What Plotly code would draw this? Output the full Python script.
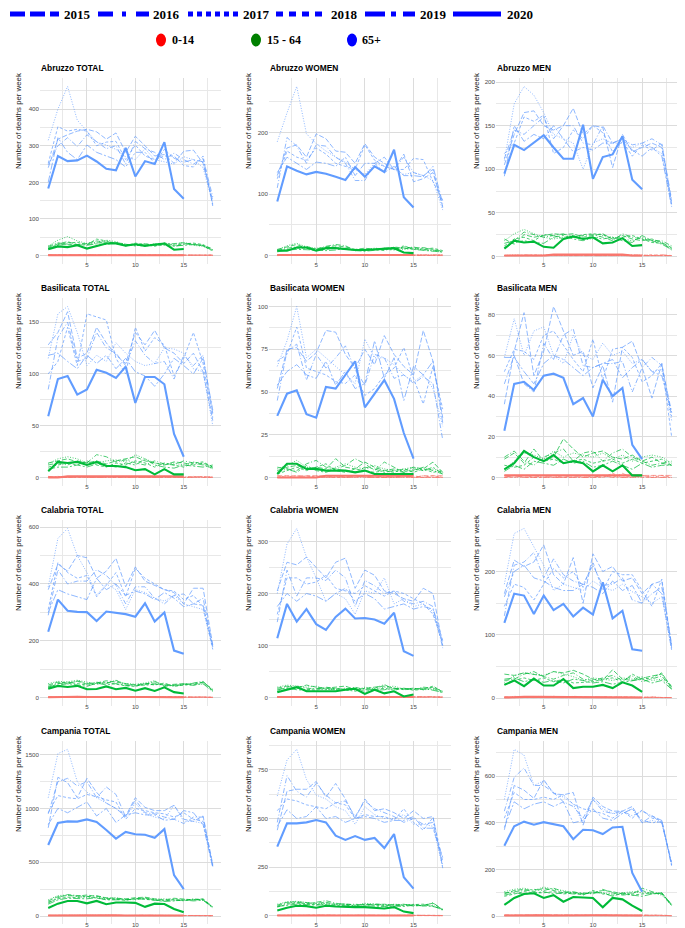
import plotly.graph_objects as go

YEARS = ["2015", "2016", "2017", "2018", "2019", "2020"]
WEEKS_FULL = list(range(1, 19))
WEEKS_2020 = list(range(1, 16))
AGE_GROUPS = ["0-14", "15 - 64", "65+"]

# ---------------- data: rows are years 2015..2020 ----------------
abruzzo_total_65 = [
    [240, 318, 330, 340, 345, 338, 318, 335, 282, 326, 300, 272, 276, 252, 285, 288, 252, 150],
    [248, 300, 322, 298, 330, 312, 292, 300, 250, 312, 292, 282, 262, 280, 262, 250, 265, 160],
    [315, 400, 462, 370, 340, 310, 302, 290, 270, 262, 292, 262, 256, 250, 270, 262, 240, 142],
    [252, 352, 340, 345, 340, 300, 310, 312, 262, 302, 272, 262, 272, 272, 246, 242, 272, 135],
    [200, 322, 282, 262, 302, 282, 272, 262, 242, 282, 282, 252, 290, 266, 255, 262, 256, 140],
    [183, 272, 258, 260, 273, 257, 237, 233, 294, 216, 258, 250, 310, 182, 155],
]
abruzzo_total_1564 = [
    [22, 32, 38, 30, 33, 40, 36, 35, 28, 30, 32, 28, 30, 33, 35, 30, 28, 18],
    [25, 35, 30, 28, 30, 35, 38, 33, 30, 28, 26, 30, 28, 25, 30, 32, 26, 14],
    [26, 42, 52, 40, 33, 36, 42, 38, 30, 29, 28, 32, 33, 30, 36, 28, 25, 15],
    [20, 30, 35, 36, 30, 45, 40, 32, 26, 34, 30, 25, 35, 28, 32, 34, 30, 16],
    [18, 28, 32, 30, 28, 32, 30, 36, 30, 26, 32, 28, 30, 26, 28, 30, 27, 12],
    [17, 25, 23, 28, 19, 25, 33, 33, 27, 31, 26, 30, 33, 16, 18],
]
abruzzo_total_014 = [
    [1, 2, 1, 2, 1, 1, 2, 1, 1, 2, 1, 1, 2, 1, 1, 1, 2, 1],
    [2, 1, 1, 1, 2, 2, 1, 1, 2, 1, 1, 2, 1, 1, 2, 1, 1, 1],
    [1, 1, 2, 3, 2, 1, 1, 2, 1, 1, 2, 1, 1, 2, 1, 1, 1, 0],
    [2, 2, 1, 1, 1, 2, 1, 1, 1, 2, 2, 1, 1, 1, 1, 2, 1, 1],
    [1, 1, 1, 2, 1, 1, 2, 2, 1, 1, 1, 2, 2, 1, 1, 1, 1, 1],
    [1, 1, 1, 1, 2, 1, 1, 1, 1, 1, 1, 2, 1, 1, 1],
]

abruzzo_women_65 = [
    [130, 175, 180, 160, 198, 190, 170, 168, 150, 182, 160, 150, 140, 165, 120, 125, 135, 80],
    [110, 192, 178, 150, 180, 178, 160, 150, 122, 122, 150, 160, 140, 160, 135, 130, 140, 78],
    [185, 232, 275, 198, 182, 170, 160, 152, 140, 132, 150, 145, 140, 132, 135, 130, 122, 74],
    [125, 170, 160, 155, 175, 165, 150, 145, 140, 180, 155, 145, 140, 140, 158, 156, 120, 90],
    [135, 160, 150, 140, 152, 150, 145, 160, 130, 150, 150, 135, 145, 130, 130, 128, 145, 85],
    [88, 145, 138, 132, 136, 133, 128, 123, 144, 128, 145, 136, 172, 95, 78],
]
abruzzo_women_1564 = [
    [10, 14, 18, 12, 11, 14, 16, 14, 10, 12, 10, 12, 10, 14, 12, 13, 10, 7],
    [8, 12, 14, 15, 10, 15, 18, 16, 8, 10, 9, 12, 13, 11, 14, 10, 9, 6],
    [9, 16, 20, 14, 12, 12, 14, 11, 8, 10, 12, 11, 12, 10, 12, 9, 8, 5],
    [7, 10, 12, 12, 8, 10, 12, 10, 9, 8, 10, 8, 14, 12, 10, 11, 12, 8],
    [6, 9, 10, 10, 9, 8, 9, 12, 8, 7, 9, 10, 9, 16, 10, 8, 7, 6],
    [8, 8, 13, 13, 8, 12, 12, 10, 9, 9, 10, 12, 12, 5, 4],
]
abruzzo_women_014 = [
    [0, 1, 1, 0, 1, 1, 0, 1, 1, 0, 1, 1, 1, 0, 1, 1, 0, 1],
    [1, 0, 1, 1, 0, 1, 1, 0, 1, 1, 0, 1, 0, 1, 1, 0, 1, 0],
    [1, 1, 0, 1, 1, 0, 1, 1, 0, 1, 1, 0, 1, 1, 0, 1, 1, 1],
    [0, 1, 1, 1, 0, 1, 0, 1, 1, 1, 0, 0, 1, 1, 1, 0, 1, 0],
    [1, 0, 0, 1, 1, 1, 1, 0, 0, 1, 1, 1, 0, 1, 0, 1, 0, 1],
    [1, 1, 1, 1, 1, 1, 1, 1, 1, 1, 1, 1, 1, 1, 1],
]

abruzzo_men_65 = [
    [105, 140, 165, 167, 150, 145, 150, 170, 140, 150, 148, 102, 140, 120, 125, 130, 125, 60],
    [112, 145, 140, 150, 160, 135, 150, 150, 130, 128, 150, 130, 135, 128, 130, 135, 128, 65],
    [110, 175, 195, 185, 165, 140, 135, 130, 100, 130, 135, 130, 130, 125, 130, 125, 118, 58],
    [118, 130, 160, 155, 162, 118, 125, 145, 135, 150, 142, 120, 132, 115, 128, 122, 130, 62],
    [92, 150, 132, 140, 135, 150, 135, 120, 125, 122, 130, 130, 135, 122, 115, 125, 115, 57],
    [95, 128, 122, 130, 139, 125, 112, 112, 151, 89, 114, 117, 138, 88, 77],
]
abruzzo_men_1564 = [
    [20, 14, 25, 22, 24, 26, 25, 26, 22, 24, 26, 20, 24, 20, 18, 20, 16, 10],
    [15, 18, 28, 25, 22, 24, 26, 22, 24, 25, 22, 18, 26, 22, 20, 18, 18, 12],
    [18, 26, 31, 26, 22, 20, 22, 24, 20, 20, 24, 22, 20, 18, 22, 18, 16, 7],
    [12, 20, 22, 18, 25, 24, 20, 22, 25, 26, 25, 20, 22, 24, 20, 16, 15, 9],
    [10, 16, 18, 16, 15, 22, 24, 20, 18, 22, 20, 22, 18, 16, 24, 18, 14, 8],
    [9, 18, 16, 17, 11, 10, 20, 23, 20, 22, 15, 16, 21, 12, 13],
]
abruzzo_men_014 = [
    [1, 1, 1, 1, 1, 2, 1, 1, 2, 1, 1, 1, 2, 1, 1, 1, 1, 1],
    [1, 1, 2, 1, 1, 1, 2, 1, 1, 1, 2, 1, 1, 2, 1, 1, 1, 1],
    [1, 2, 1, 1, 2, 1, 1, 2, 1, 2, 1, 1, 1, 1, 2, 1, 1, 1],
    [1, 1, 1, 2, 1, 1, 1, 1, 1, 1, 1, 2, 1, 1, 1, 2, 1, 1],
    [1, 1, 1, 1, 1, 1, 2, 1, 2, 1, 1, 1, 1, 1, 1, 1, 2, 1],
    [1, 1, 1, 1, 1, 2, 2, 2, 2, 2, 2, 2, 2, 1, 1],
]

basilicata_total_65 = [
    [128, 140, 160, 115, 120, 145, 130, 118, 110, 140, 128, 142, 125, 120, 110, 120, 102, 55],
    [85, 135, 150, 112, 115, 140, 125, 120, 108, 132, 118, 110, 112, 95, 118, 108, 118, 62],
    [115, 158, 165, 140, 108, 118, 112, 130, 120, 112, 108, 110, 125, 124, 120, 105, 102, 50],
    [100, 112, 145, 108, 158, 155, 152, 115, 100, 145, 122, 135, 128, 98, 115, 140, 110, 58],
    [118, 120, 112, 105, 118, 110, 118, 105, 115, 102, 98, 88, 100, 115, 108, 100, 115, 65],
    [59, 95, 98, 80, 85, 104, 101, 96, 107, 72, 97, 97, 90, 42, 20],
]
basilicata_total_1564 = [
    [14, 16, 18, 15, 14, 16, 13, 16, 18, 20, 16, 14, 12, 15, 14, 12, 14, 10],
    [12, 14, 12, 16, 14, 22, 20, 15, 17, 14, 12, 16, 13, 12, 16, 14, 12, 9],
    [13, 18, 20, 18, 14, 14, 16, 17, 15, 22, 18, 14, 12, 14, 12, 15, 13, 8],
    [10, 12, 14, 12, 16, 12, 10, 14, 12, 16, 14, 10, 14, 12, 10, 14, 15, 10],
    [8, 10, 10, 12, 10, 13, 12, 10, 14, 12, 18, 12, 10, 9, 12, 11, 10, 12],
    [6, 15, 14, 15, 12, 15, 11, 11, 10, 7, 8, 3, 8, 3, 3],
]
basilicata_total_014 = [
    [0, 1, 0, 1, 0, 0, 1, 0, 0, 1, 0, 0, 1, 0, 0, 1, 0, 0],
    [1, 0, 0, 0, 1, 0, 0, 1, 0, 0, 1, 0, 0, 1, 0, 0, 1, 0],
    [0, 0, 1, 0, 0, 1, 0, 0, 1, 1, 0, 1, 0, 0, 1, 0, 0, 1],
    [0, 1, 0, 0, 1, 0, 1, 0, 0, 0, 1, 0, 1, 0, 0, 1, 0, 0],
    [1, 0, 0, 1, 0, 0, 0, 1, 1, 0, 0, 0, 0, 1, 0, 0, 1, 0],
    [0, 0, 1, 1, 1, 1, 1, 1, 1, 1, 1, 1, 1, 1, 1],
]

basilicata_women_65 = [
    [52, 75, 76, 68, 73, 86, 85, 72, 64, 75, 66, 83, 72, 65, 60, 86, 68, 35],
    [45, 74, 78, 57, 72, 64, 70, 77, 63, 54, 72, 70, 58, 60, 55, 59, 55, 22],
    [65, 80, 100, 70, 75, 70, 65, 60, 55, 81, 70, 70, 66, 60, 56, 60, 52, 30],
    [68, 72, 88, 64, 62, 60, 56, 55, 60, 48, 52, 60, 64, 76, 58, 43, 65, 40],
    [54, 62, 66, 60, 58, 68, 54, 62, 52, 55, 80, 58, 70, 45, 65, 60, 68, 32],
    [36, 49, 51, 37, 35, 53, 52, 60, 68, 41, 49, 57, 46, 26, 11],
]
basilicata_women_1564 = [
    [4, 6, 7, 5, 6, 5, 11, 6, 5, 9, 6, 4, 5, 4, 6, 5, 9, 3],
    [3, 5, 4, 8, 10, 6, 5, 7, 11, 8, 4, 9, 6, 3, 4, 6, 4, 2],
    [5, 7, 10, 6, 5, 4, 6, 8, 6, 5, 7, 5, 4, 5, 6, 4, 5, 3],
    [2, 4, 6, 4, 6, 8, 4, 3, 5, 4, 3, 4, 3, 5, 3, 5, 3, 4],
    [6, 5, 3, 7, 4, 3, 5, 4, 3, 6, 5, 3, 4, 3, 5, 4, 6, 2],
    [2, 8, 8, 5, 5, 4, 4, 4, 3, 4, 2, 2, 2, 2, 2],
]
basilicata_women_014 = [
    [1, 1, 1, 1, 1, 1, 1, 0, 0, 1, 0, 0, 0, 1, 0, 1, 1, 1],
    [0, 0, 1, 0, 0, 1, 0, 0, 1, 0, 0, 1, 0, 0, 1, 0, 0, 0],
    [0, 1, 0, 0, 0, 0, 1, 0, 0, 0, 1, 0, 0, 0, 0, 1, 0, 1],
    [1, 0, 0, 1, 0, 0, 0, 1, 0, 1, 0, 0, 1, 0, 0, 0, 1, 0],
    [0, 0, 0, 0, 1, 0, 0, 0, 1, 0, 0, 0, 0, 1, 0, 0, 0, 0],
    [0, 0, 0, 0, 0, 1, 1, 1, 1, 1, 1, 1, 1, 1, 1],
]

basilicata_men_65 = [
    [36, 62, 81, 50, 62, 84, 72, 60, 62, 44, 55, 37, 64, 67, 54, 39, 56, 30],
    [46, 60, 46, 42, 66, 58, 70, 73, 55, 54, 56, 56, 57, 42, 54, 59, 55, 32],
    [59, 78, 60, 72, 74, 60, 56, 70, 60, 58, 66, 60, 62, 56, 58, 52, 53, 28],
    [52, 63, 62, 58, 70, 72, 65, 58, 52, 68, 48, 63, 64, 59, 47, 50, 56, 20],
    [59, 59, 52, 46, 56, 60, 58, 54, 50, 54, 56, 58, 49, 54, 58, 52, 50, 32],
    [23, 46, 47, 43, 50, 51, 49, 36, 39, 30, 48, 40, 44, 16, 9],
]
basilicata_men_1564 = [
    [9, 12, 7, 14, 8, 10, 19, 14, 10, 12, 13, 10, 9, 11, 8, 10, 7, 6],
    [10, 13, 8, 6, 10, 12, 14, 8, 12, 13, 8, 12, 14, 10, 8, 6, 7, 8],
    [4, 8, 12, 11, 9, 13, 10, 12, 11, 10, 12, 9, 11, 8, 10, 11, 10, 7],
    [6, 5, 6, 10, 8, 9, 7, 8, 9, 7, 8, 9, 7, 9, 7, 8, 9, 6],
    [3, 6, 4, 8, 7, 6, 9, 7, 8, 5, 6, 8, 6, 4, 7, 5, 6, 6],
    [4, 7, 13, 10, 8, 11, 7, 8, 7, 3, 6, 3, 6, 1, 1],
]
basilicata_men_014 = [
    [1, 1, 1, 1, 1, 1, 1, 1, 1, 1, 1, 1, 1, 1, 1, 1, 1, 1],
    [0, 1, 0, 0, 1, 0, 0, 1, 0, 0, 1, 0, 2, 0, 1, 0, 0, 1],
    [1, 0, 0, 1, 0, 0, 1, 0, 0, 1, 0, 1, 0, 0, 0, 1, 0, 0],
    [0, 0, 1, 0, 0, 1, 0, 0, 1, 0, 0, 2, 0, 1, 0, 0, 1, 0],
    [0, 1, 0, 0, 0, 0, 0, 0, 0, 0, 1, 0, 0, 0, 1, 0, 0, 0],
    [1, 1, 1, 1, 1, 1, 1, 1, 1, 1, 1, 1, 1, 1, 1],
]

calabria_total_65 = [
    [380, 470, 445, 500, 492, 420, 445, 490, 390, 460, 410, 395, 380, 370, 330, 385, 385, 185],
    [290, 450, 400, 410, 410, 450, 430, 395, 330, 390, 390, 350, 330, 360, 365, 330, 350, 180],
    [390, 560, 595, 500, 440, 360, 400, 380, 310, 380, 370, 350, 340, 360, 330, 320, 310, 175],
    [310, 475, 440, 420, 430, 355, 395, 440, 355, 455, 420, 400, 380, 375, 345, 360, 320, 170],
    [300, 380, 365, 355, 345, 420, 380, 400, 360, 375, 365, 345, 370, 350, 320, 330, 325, 180],
    [232, 345, 306, 302, 301, 270, 303, 299, 294, 285, 332, 268, 300, 166, 155],
]
calabria_total_1564 = [
    [45, 55, 52, 58, 48, 52, 60, 55, 48, 45, 50, 52, 45, 48, 50, 45, 55, 30],
    [40, 52, 48, 60, 50, 55, 50, 62, 45, 42, 46, 58, 40, 45, 48, 52, 58, 25],
    [50, 58, 56, 62, 55, 50, 52, 60, 50, 48, 52, 60, 42, 44, 48, 50, 48, 22],
    [35, 50, 55, 50, 45, 48, 55, 48, 42, 40, 50, 45, 52, 40, 45, 50, 55, 28],
    [38, 45, 50, 45, 40, 52, 45, 50, 44, 46, 44, 48, 46, 42, 46, 44, 50, 24],
    [32, 42, 38, 42, 30, 31, 40, 30, 35, 25, 34, 24, 37, 20, 15],
]
calabria_total_014 = [
    [2, 3, 4, 2, 3, 5, 2, 3, 2, 4, 3, 2, 3, 4, 2, 3, 2, 2],
    [3, 2, 3, 4, 2, 3, 4, 2, 3, 2, 4, 3, 2, 3, 4, 2, 3, 1],
    [2, 4, 3, 5, 4, 2, 3, 3, 2, 3, 2, 4, 3, 2, 3, 3, 2, 2],
    [3, 3, 2, 3, 5, 3, 2, 4, 3, 2, 3, 3, 4, 2, 2, 4, 3, 1],
    [2, 2, 3, 2, 3, 4, 3, 2, 4, 3, 2, 2, 3, 3, 2, 2, 4, 2],
    [2, 3, 3, 4, 3, 2, 3, 3, 2, 3, 3, 2, 3, 2, 2],
]

calabria_women_65 = [
    [205, 260, 255, 270, 250, 230, 260, 268, 210, 245, 235, 205, 200, 190, 185, 210, 200, 100],
    [145, 245, 195, 230, 230, 225, 245, 230, 175, 225, 215, 200, 205, 185, 180, 185, 175, 95],
    [200, 295, 325, 270, 230, 185, 200, 190, 160, 205, 200, 230, 180, 190, 175, 180, 165, 100],
    [160, 230, 230, 218, 222, 235, 210, 205, 200, 215, 205, 195, 205, 200, 190, 180, 160, 105],
    [175, 200, 185, 200, 195, 185, 200, 210, 185, 200, 190, 170, 175, 180, 170, 175, 170, 110],
    [114, 180, 146, 170, 141, 130, 155, 171, 152, 153, 150, 142, 163, 89, 80],
]
calabria_women_1564 = [
    [18, 22, 18, 24, 20, 18, 20, 22, 15, 18, 20, 22, 18, 16, 18, 15, 20, 12],
    [14, 20, 22, 18, 16, 20, 17, 16, 20, 15, 18, 25, 16, 18, 15, 20, 18, 10],
    [20, 24, 22, 20, 22, 16, 15, 18, 14, 20, 17, 20, 22, 16, 18, 15, 16, 9],
    [12, 16, 18, 15, 14, 18, 15, 14, 16, 12, 15, 18, 14, 18, 14, 16, 22, 11],
    [16, 18, 15, 14, 18, 15, 18, 15, 12, 18, 14, 15, 18, 15, 16, 18, 14, 10],
    [10, 15, 20, 12, 12, 13, 12, 15, 17, 7, 15, 8, 12, 2, 6],
]
calabria_women_014 = [
    [1, 1, 2, 1, 1, 2, 1, 1, 1, 2, 1, 1, 1, 1, 2, 1, 1, 1],
    [1, 2, 1, 1, 2, 1, 1, 2, 1, 1, 1, 2, 1, 1, 1, 1, 2, 0],
    [2, 1, 1, 2, 1, 1, 2, 1, 1, 1, 2, 1, 1, 2, 1, 1, 1, 1],
    [1, 1, 1, 1, 1, 2, 1, 1, 2, 1, 1, 1, 2, 1, 1, 2, 1, 1],
    [1, 2, 1, 1, 1, 1, 1, 2, 1, 1, 1, 1, 1, 1, 2, 1, 1, 1],
    [1, 1, 2, 1, 2, 1, 1, 1, 1, 2, 1, 1, 1, 1, 1],
]

calabria_men_65 = [
    [165, 218, 208, 215, 242, 195, 180, 222, 150, 228, 200, 208, 185, 190, 165, 180, 185, 80],
    [130, 210, 215, 230, 190, 220, 195, 185, 180, 210, 178, 180, 190, 155, 150, 165, 175, 85],
    [180, 260, 268, 240, 210, 170, 180, 175, 170, 185, 175, 170, 180, 168, 160, 150, 160, 78],
    [145, 180, 175, 155, 180, 205, 190, 200, 175, 215, 170, 200, 195, 195, 170, 145, 188, 82],
    [160, 200, 210, 190, 185, 175, 170, 170, 180, 175, 165, 185, 170, 178, 150, 180, 165, 76],
    [119, 165, 162, 133, 162, 139, 149, 129, 143, 132, 183, 126, 138, 77, 75],
]
calabria_men_1564 = [
    [38, 36, 40, 38, 35, 42, 40, 44, 38, 30, 28, 45, 30, 28, 32, 35, 38, 18],
    [28, 30, 38, 42, 34, 30, 36, 40, 30, 28, 32, 36, 28, 35, 26, 30, 35, 15],
    [25, 35, 40, 38, 36, 42, 38, 34, 28, 32, 30, 28, 32, 30, 34, 28, 30, 20],
    [22, 28, 32, 28, 32, 26, 30, 24, 25, 26, 30, 32, 26, 38, 30, 32, 40, 16],
    [30, 32, 26, 30, 25, 28, 24, 30, 28, 24, 26, 22, 25, 28, 30, 24, 28, 14],
    [21, 28, 19, 31, 20, 20, 30, 16, 18, 18, 21, 16, 25, 20, 10],
]
calabria_men_014 = [
    [1, 2, 2, 1, 2, 3, 1, 2, 1, 2, 2, 1, 2, 2, 1, 2, 1, 1],
    [2, 1, 2, 2, 1, 2, 2, 1, 2, 1, 2, 2, 1, 2, 2, 1, 2, 1],
    [1, 3, 2, 2, 3, 1, 2, 2, 1, 2, 1, 2, 2, 1, 2, 2, 1, 1],
    [2, 2, 1, 2, 2, 2, 1, 3, 2, 1, 2, 2, 2, 1, 1, 2, 2, 1],
    [1, 1, 2, 1, 2, 2, 2, 1, 2, 2, 1, 1, 2, 2, 1, 1, 2, 1],
    [1, 2, 2, 2, 2, 1, 2, 2, 1, 2, 2, 1, 2, 1, 1],
]

campania_total_65 = [
    [820, 1290, 1240, 1100, 1280, 1150, 1050, 1000, 930, 1100, 1010, 980, 980, 1030, 900, 880, 930, 480],
    [950, 1250, 1280, 1210, 1250, 1100, 1200, 1130, 920, 1080, 960, 950, 920, 900, 860, 920, 920, 460],
    [1100, 1510, 1550, 1250, 1150, 1100, 1050, 1000, 920, 1050, 950, 920, 900, 1030, 880, 880, 860, 460],
    [960, 1120, 1100, 1090, 1130, 1110, 1080, 1060, 900, 1000, 980, 960, 950, 920, 960, 900, 880, 470],
    [850, 1000, 960, 1010, 1060, 930, 1000, 870, 940, 960, 940, 940, 890, 900, 980, 960, 850, 450],
    [660, 865, 880, 878, 898, 875, 800, 720, 782, 760, 755, 728, 808, 380, 250],
]
campania_total_1564 = [
    [140, 180, 190, 185, 195, 180, 170, 165, 160, 170, 175, 160, 150, 165, 155, 150, 160, 85],
    [120, 170, 200, 190, 180, 190, 165, 160, 150, 160, 165, 150, 145, 150, 140, 160, 150, 80],
    [150, 190, 195, 180, 170, 175, 160, 170, 155, 150, 170, 155, 160, 145, 150, 155, 145, 75],
    [130, 160, 175, 170, 185, 165, 155, 155, 145, 165, 155, 145, 140, 155, 145, 150, 155, 82],
    [110, 150, 165, 165, 160, 170, 150, 150, 150, 155, 160, 150, 135, 140, 150, 140, 148, 78],
    [75, 115, 140, 140, 118, 140, 110, 125, 125, 122, 85, 115, 112, 65, 35],
]
campania_total_014 = [
    [5, 6, 7, 5, 6, 8, 5, 6, 4, 7, 6, 5, 6, 7, 5, 6, 5, 3],
    [6, 5, 6, 7, 5, 6, 7, 5, 6, 5, 7, 6, 5, 6, 7, 5, 6, 3],
    [4, 7, 6, 8, 7, 5, 6, 6, 5, 6, 5, 7, 6, 5, 6, 6, 5, 4],
    [6, 6, 5, 6, 8, 6, 5, 7, 6, 5, 6, 6, 7, 5, 5, 7, 6, 3],
    [5, 5, 6, 5, 6, 7, 6, 5, 7, 6, 5, 5, 6, 6, 5, 5, 7, 4],
    [5, 6, 6, 7, 6, 5, 6, 6, 5, 6, 6, 5, 6, 5, 4],
]

campania_women_65 = [
    [440, 640, 650, 650, 690, 610, 680, 600, 500, 600, 540, 550, 530, 500, 540, 500, 510, 245],
    [480, 720, 640, 610, 680, 620, 580, 590, 510, 590, 550, 530, 510, 480, 500, 470, 480, 260],
    [615, 800, 855, 700, 620, 600, 560, 540, 470, 560, 520, 500, 500, 520, 470, 470, 460, 250],
    [540, 600, 590, 570, 560, 550, 580, 570, 500, 520, 510, 510, 490, 550, 480, 440, 505, 280],
    [460, 545, 500, 510, 560, 500, 510, 480, 500, 510, 500, 480, 490, 490, 510, 450, 450, 300],
    [355, 475, 475, 480, 492, 480, 412, 390, 410, 390, 400, 348, 420, 198, 140],
]
campania_women_1564 = [
    [55, 70, 72, 68, 65, 70, 60, 62, 55, 60, 58, 60, 55, 60, 50, 55, 65, 32],
    [50, 65, 70, 62, 70, 78, 65, 58, 60, 55, 62, 58, 52, 55, 60, 50, 68, 30],
    [60, 72, 75, 70, 62, 65, 58, 60, 52, 65, 60, 55, 60, 58, 55, 52, 55, 28],
    [45, 60, 65, 60, 58, 62, 55, 55, 50, 58, 55, 52, 58, 52, 58, 60, 50, 32],
    [48, 55, 60, 58, 55, 58, 50, 52, 48, 52, 50, 48, 50, 48, 55, 50, 48, 35],
    [28, 42, 52, 50, 42, 52, 48, 45, 45, 45, 43, 38, 45, 22, 14],
]
campania_women_014 = [
    [2, 3, 2, 3, 2, 4, 2, 3, 2, 3, 2, 2, 3, 2, 2, 3, 2, 1],
    [3, 2, 3, 2, 3, 2, 3, 2, 3, 2, 3, 3, 2, 3, 3, 2, 3, 2],
    [2, 4, 3, 3, 2, 3, 2, 3, 2, 3, 2, 3, 2, 2, 3, 2, 2, 1],
    [3, 2, 2, 3, 4, 2, 3, 2, 3, 2, 3, 2, 3, 3, 2, 3, 3, 2],
    [2, 3, 3, 2, 3, 3, 2, 2, 3, 3, 2, 2, 3, 2, 3, 2, 2, 1],
    [2, 2, 3, 3, 2, 3, 2, 3, 2, 2, 3, 2, 2, 2, 2],
]

campania_men_65 = [
    [370, 560, 540, 505, 585, 525, 520, 530, 390, 510, 470, 450, 450, 470, 400, 430, 410, 220],
    [450, 595, 635, 560, 560, 530, 490, 470, 420, 500, 450, 440, 450, 430, 450, 430, 400, 230],
    [500, 715, 690, 560, 580, 530, 510, 480, 400, 500, 460, 440, 440, 460, 400, 410, 400, 220],
    [420, 530, 500, 500, 510, 500, 520, 480, 460, 450, 440, 420, 450, 420, 455, 420, 410, 225],
    [380, 490, 460, 480, 490, 470, 490, 400, 410, 460, 420, 410, 440, 460, 410, 400, 405, 215],
    [302, 385, 405, 392, 403, 393, 385, 330, 370, 368, 352, 380, 383, 185, 105],
]
campania_men_1564 = [
    [95, 110, 115, 105, 120, 110, 100, 105, 95, 100, 110, 105, 95, 100, 110, 95, 100, 50],
    [100, 105, 110, 115, 110, 120, 105, 100, 100, 95, 115, 100, 90, 95, 120, 105, 95, 45],
    [105, 115, 120, 110, 125, 115, 110, 100, 95, 105, 100, 95, 100, 105, 100, 100, 90, 48],
    [85, 95, 105, 100, 100, 105, 95, 100, 90, 110, 95, 90, 95, 90, 95, 100, 95, 52],
    [90, 100, 95, 98, 105, 95, 100, 95, 95, 100, 100, 85, 100, 90, 85, 95, 100, 45],
    [48, 78, 95, 98, 78, 90, 62, 82, 80, 78, 38, 78, 72, 45, 22],
]
campania_men_014 = [
    [3, 4, 5, 3, 4, 5, 3, 4, 3, 4, 4, 3, 4, 5, 3, 4, 3, 2],
    [4, 3, 4, 5, 3, 4, 5, 3, 4, 3, 5, 4, 3, 4, 5, 3, 4, 2],
    [3, 5, 4, 5, 4, 3, 4, 4, 3, 4, 3, 5, 4, 3, 4, 4, 3, 2],
    [4, 4, 3, 4, 5, 4, 3, 5, 4, 3, 4, 4, 5, 3, 3, 6, 4, 2],
    [3, 3, 4, 3, 4, 5, 4, 3, 5, 4, 3, 3, 4, 4, 3, 3, 5, 2],
    [3, 4, 4, 4, 4, 3, 4, 4, 3, 4, 4, 3, 4, 3, 3],
]

PANEL_TITLES = [
    "Abruzzo TOTAL", "Abruzzo WOMEN", "Abruzzo MEN",
    "Basilicata TOTAL", "Basilicata WOMEN", "Basilicata MEN",
    "Calabria TOTAL", "Calabria WOMEN", "Calabria MEN",
    "Campania TOTAL", "Campania WOMEN", "Campania MEN",
]
PANEL_DATA = [
    (abruzzo_total_014, abruzzo_total_1564, abruzzo_total_65),
    (abruzzo_women_014, abruzzo_women_1564, abruzzo_women_65),
    (abruzzo_men_014, abruzzo_men_1564, abruzzo_men_65),
    (basilicata_total_014, basilicata_total_1564, basilicata_total_65),
    (basilicata_women_014, basilicata_women_1564, basilicata_women_65),
    (basilicata_men_014, basilicata_men_1564, basilicata_men_65),
    (calabria_total_014, calabria_total_1564, calabria_total_65),
    (calabria_women_014, calabria_women_1564, calabria_women_65),
    (calabria_men_014, calabria_men_1564, calabria_men_65),
    (campania_total_014, campania_total_1564, campania_total_65),
    (campania_women_014, campania_women_1564, campania_women_65),
    (campania_men_014, campania_men_1564, campania_men_65),
]
Y_STEPS = [100, 100, 50, 50, 25, 20, 200, 100, 100, 500, 250, 200]

# ---------------- styling ----------------
W, H = 685, 928
AGE_COLORS = ["#F8766D", "#00BA38", "#619CFF"]
PANEL_DASH = ["5px,2px", "5px,2px,1px,2px", "1px,1.6px", "3px,2px", "7px,2px,2px,2px", "solid"]
LEG_DASH = ["15px,5px", "15px,9px,4px,10px", "5px,4px", "7px,6px", "20px,6px,5px,7px", "solid"]
COL_X = [(32, 213), (261, 443), (488, 672)]
ROW_Y = [(70, 256), (290, 478), (512, 698), (733, 916)]
YTITLE_X = [10, 240, 468]

def px_x(v):
    return v / W

def px_y(v):
    return 1 - v / H

fig = go.Figure()
layout = dict(
    width=W, height=H, autosize=False,
    margin=dict(l=0, r=0, t=0, b=0),
    paper_bgcolor="white", plot_bgcolor="white",
    showlegend=False,
    font=dict(family="Liberation Sans, Arial, sans-serif", color="#4D4D4D"),
)
annotations = []
shapes = []

for i, (title, groups) in enumerate(zip(PANEL_TITLES, PANEL_DATA)):
    r, c = divmod(i, 3)
    ax = "" if i == 0 else str(i + 1)
    x0, x1 = COL_X[c]
    y0, y1 = ROW_Y[r]
    allv = [v for g in groups for row in g for v in row]
    lo, hi = min(allv), max(allv)
    pad = 0.05 * (hi - lo)
    step = Y_STEPS[i]
    layout["xaxis" + ax] = dict(
        domain=[px_x(x0), px_x(x1)], anchor="y" + ax, range=[0.15, 18.85],
        tick0=0, dtick=5, showgrid=True, gridcolor="#DCDCDC", gridwidth=1,
        zeroline=False, showline=False, ticks="", ticklen=0, ticklabelstandoff=-4,
        tickfont=dict(size=6.2, color="#4D4D4D"),
        minor=dict(tick0=0, dtick=2.5, showgrid=True, gridcolor="#E8E8E8", gridwidth=0.7, ticks=""),
    )
    layout["yaxis" + ax] = dict(
        domain=[px_y(y1), px_y(y0)], anchor="x" + ax, range=[lo - pad, hi + pad],
        tick0=0, dtick=step, tickformat="d", showgrid=True, gridcolor="#DCDCDC", gridwidth=1,
        zeroline=False, showline=False, ticks="", ticklen=0,
        tickfont=dict(size=6.2, color="#4D4D4D"),
        minor=dict(tick0=0, dtick=step / 2, showgrid=True, gridcolor="#E8E8E8", gridwidth=0.7, ticks=""),
    )
    for yi in range(6):
        for gi, g in enumerate(groups):
            vals = g[yi]
            weeks = WEEKS_FULL if yi < 5 else WEEKS_2020
            fig.add_trace(go.Scatter(
                x=weeks[:len(vals)], y=vals, mode="lines",
                xaxis="x" + ax, yaxis="y" + ax,
                line=dict(color=AGE_COLORS[gi], width=1.0 if yi < 5 else 2.1, dash=PANEL_DASH[yi]),
                opacity=0.7 if yi < 5 else 1.0,
                name=f"{YEARS[yi]} {AGE_GROUPS[gi]}", hoverinfo="skip",
            ))
    annotations.append(dict(
        xref="paper", yref="paper", x=px_x(x0 - 1), y=px_y(y0 - 10),
        xanchor="left", yanchor="middle", showarrow=False, text="<b>" + title + "</b>",
        font=dict(size=8.4, color="#000000", family="Liberation Sans, Arial, sans-serif"),
    ))
    annotations.append(dict(
        xref="paper", yref="paper", x=px_x(YTITLE_X[c]), y=px_y(y0 - 7),
        xanchor="center", yanchor="top", showarrow=False, textangle=-90,
        text="Number of deaths per week",
        font=dict(size=7.8, color="#1A1A1A", family="Liberation Sans, Arial, sans-serif"),
    ))

# ---------------- custom legend ----------------
LEG_LINE_X = [(2, 51), (90, 141), (180, 230), (268, 318), (357, 407), (445, 493)]
LEG_TEXT_X = [54, 143, 233, 321, 410, 497]
for k in range(6):
    a, b = LEG_LINE_X[k]
    shapes.append(dict(type="line", xref="paper", yref="paper",
                       x0=px_x(a), x1=px_x(b), y0=px_y(6), y1=px_y(6),
                       line=dict(color="#0000FF", width=5, dash=LEG_DASH[k])))
    annotations.append(dict(xref="paper", yref="paper", x=px_x(LEG_TEXT_X[k]), y=px_y(6.5),
                            xanchor="left", yanchor="middle", showarrow=False,
                            text="<b>" + YEARS[k] + "</b>",
                            font=dict(size=13, color="#000000", family="Liberation Serif, Times New Roman, serif")))
LEG_DOT_X = [153, 248, 344]
LEG_DOT_COL = ["#FF0000", "#008000", "#0000FF"]
LEG_DOT_TX = [162, 257, 352]
for k in range(3):
    cx = LEG_DOT_X[k]
    shapes.append(dict(type="circle", xref="paper", yref="paper",
                       x0=px_x(cx - 5), x1=px_x(cx + 5), y0=px_y(38.5), y1=px_y(25.5),
                       fillcolor=LEG_DOT_COL[k], line=dict(width=0)))
    annotations.append(dict(xref="paper", yref="paper", x=px_x(LEG_DOT_TX[k]), y=px_y(32.5),
                            xanchor="left", yanchor="middle", showarrow=False,
                            text="<b>" + AGE_GROUPS[k] + "</b>",
                            font=dict(size=12, color="#000000", family="Liberation Serif, Times New Roman, serif")))

layout["annotations"] = annotations
layout["shapes"] = shapes
fig.update_layout(**layout)
fig.write_html("out.html")
